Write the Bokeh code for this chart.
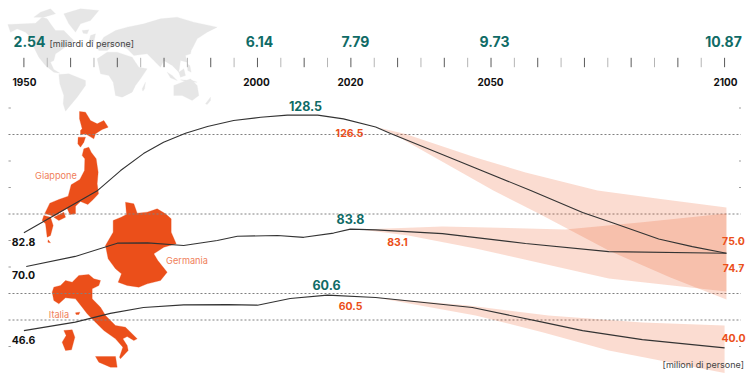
from bokeh.embed import file_html
from bokeh.models import Range1d
from bokeh.plotting import figure
from bokeh.resources import INLINE
from bokeh.core.properties import value

# ---------- data ----------
tick_years = list(range(1950, 2101, 5))
label_years = [1950, 2000, 2020, 2050, 2100]
world_pop_labels = ["2.54", "6.14", "7.79", "9.73", "10.87"]
grid_values = [120, 90, 60, 50]
grid_dots = [130, 110, 100, 80, 70, 40]

japan_years = [1950, 1965.8, 1970.7, 1975.6, 1979.9, 1984.6, 1989.3, 1994.9, 2000.7, 2006.4, 2012.9, 2018.4, 2025.3,
               2028.5, 2043.5, 2058.5, 2069.6, 2076, 2085.9, 2093.1, 2100.4]
japan_pop = [82.9, 98.9, 106.4, 112.8, 117.1, 120.5, 123, 125.3, 126.5, 127.3, 127.3, 125.9, 122.8,
             120.4, 109.6, 98.9, 90.6, 86.7, 80.6, 77.7, 75.2]
japan_hi_years = [2025.3, 2031.7, 2046.7, 2057.4, 2072.8, 2085.9, 2100.4]
japan_hi = [122.8, 120.2, 111.3, 105.7, 98.9, 95.8, 92.5]
japan_lo_years = [2025.3, 2028.9, 2050.5, 2060.2, 2075.2, 2088.4, 2100.4]
japan_lo = [122.8, 120.4, 98.9, 90.2, 76.2, 66, 57.7]

germany_years = [1950.5, 1961, 1970, 1976.5, 1984.2, 1991.4, 1995.7, 2004.3, 2009.9, 2016.3, 2019.9, 2025.3,
                 2039.6, 2057.4, 2075.2, 2100.4]
germany_pop = [70.2, 74, 79, 79.1, 78.1, 80, 81.6, 81.9, 81.2, 82.8, 84.3, 84, 82.6, 78.9, 75.8, 75.2]
germany_hi_years = [2022, 2039.6, 2065.9, 2082.4, 2100.4]
germany_hi = [84.2, 85.3, 84.2, 86.9, 90.2]
germany_lo_years = [2022, 2032.3, 2046.7, 2075.2, 2100.4]
germany_lo = [84.2, 81.9, 77, 65.7, 60.8]

italy_years = [1950, 1961, 1968.5, 1975.6, 1984.2, 1993.6, 2000, 2007, 2015, 2025.3, 2046, 2061, 2069.6, 2082.4, 2100]
italy_pop = [46, 49.2, 52.5, 54.7, 55.7, 55.8, 55.6, 58.1, 59.4, 58.5, 54.7, 49.2, 46, 42.6, 39.5]
italy_hi_years = [2025.3, 2045.2, 2062.3, 2082.4, 2100]
italy_hi = [58.5, 55.5, 51.7, 49.1, 47.9]
italy_lo_years = [2025.3, 2031, 2046.7, 2061, 2075.2, 2100]
italy_lo = [58.5, 56.7, 51.7, 45.4, 38.5, 30]

# ---------- decorative map outlines (page pixels: origin, scale 1/3) ----------
world_a = [
    [(22,72),(70,70),(105,68),(125,50),(140,55),(150,70),(165,90),(190,90),(210,110),(220,120),(200,135),(180,150),(165,160),(160,180),(150,185),(160,207),(178,218),(160,215),(135,195),(115,170),(100,140),(95,115),(75,95),(50,85),(30,95)],
    [(100,50),(120,35),(150,25),(165,40),(130,50)],
    [(190,40),(240,25),(295,30),(270,60),(240,70),(225,95),(205,70)],
    [(175,222),(205,220),(255,240),(255,255),(230,290),(205,320),(195,332),(188,310),(190,285),(178,250)],
    [(290,175),(320,155),(350,155),(395,170),(415,200),(440,205),(420,235),(405,255),(395,275),(365,290),(345,285),(338,245),(325,225),(300,220)],
    [(290,140),(310,110),(345,90),(380,80),(430,70),(480,55),(530,50),(580,65),(650,80),(620,95),(590,115),(575,145),(555,165),(560,185),(540,180),(535,215),(515,195),(490,180),(480,200),(460,180),(440,160),(400,165),(380,145),(345,130),(320,150),(295,150)],
    [(270,105),(285,100),(280,125),(265,125)],
    [(245,90),(265,88),(260,100),(248,98)],
    [(535,215),(550,205),(555,225),(540,230)],
    [(500,215),(515,225),(530,240),(510,232)],
    [(540,238),(575,240),(590,245),(560,244)],
    [(560,190),(568,195),(572,215),(562,210)],
    [(520,255),(545,245),(570,235),(590,255),(595,285),(575,300),(545,285),(520,285)],
    [(615,310),(630,290),(630,300),(620,312)],
    [(565,150),(575,135),(570,160),(555,165)],
    [(425,265),(435,245),(432,265),(427,272)],
]
japan_a = [
    [(147,18),(165,20),(180,45),(200,55),(220,45),(233,65),(215,72),(195,85),(190,100),(165,85),(150,88),(150,75),(155,70),(147,40)],
    [(143,95),(165,95),(160,110),(150,125),(142,115)],
    [(160,130),(175,125),(182,140),(197,160),(203,200),(200,235),(204,265),(188,282),(172,297),(150,288),(135,302),(135,325),(118,327),(110,308),(90,320),(70,332),(43,324),(58,293),(85,282),(113,272),(122,238),(148,222),(162,195),(163,160),(155,150)],
    [(40,330),(60,335),(68,360),(60,390),(50,395),(45,355),(35,345)],
    [(70,335),(100,320),(105,335),(85,345)],
    [(53,403),(60,412),(52,410)],
]
germany_a = [
    [(375,35),(400,40),(410,68),(440,65),(470,55),(495,70),(512,85),(512,125),(527,160),(490,170),(460,190),(472,210),(500,245),(480,270),(440,280),(415,290),(380,285),(353,275),(363,250),(345,235),(323,205),(315,165),(338,125),(338,90),(362,80),(378,72)],
]
italy_a = [
    [(20,65),(25,50),(45,45),(60,30),(80,35),(100,15),(130,12),(145,25),(165,30),(160,45),(140,55),(140,85),(165,110),(180,135),(210,165),(240,170),(275,205),(265,210),(245,198),(232,205),(245,225),(248,240),(225,265),(222,260),(232,230),(210,205),(175,180),(150,155),(125,130),(110,110),(90,85),(60,82),(40,100),(25,90)],
    [(55,180),(80,178),(88,200),(78,238),(60,240),(50,215),(62,195)],
    [(150,258),(210,258),(215,290),(195,290),(160,275)],
    [(90,127),(103,125),(100,132),(92,132)],
]

ORANGE = "#eb4f1a"
TEAL = "#0f6b66"
FONT = value("Inter")

# Page pixel x = 23.4 + 4.671*(year-1950); page pixel y = 293 - 2.65*(v-60)
p = figure(width=750, height=375, output_backend="svg", toolbar_location=None,
           x_range=Range1d(1944.99, 2105.55), y_range=Range1d(29.06, 170.57),
           x_axis_location=None, y_axis_location=None, min_border=0,
           outline_line_color=None, background_fill_color="white")
p.grid.visible = False
p.extra_x_ranges["page"] = Range1d(0, 750)
p.extra_y_ranges["page"] = Range1d(375, 0)


def shapes(polys, ox, oy, color):
    xs = [[ox + a / 3 for a, _ in poly] for poly in polys]
    ys = [[oy + b / 3 for _, b in poly] for poly in polys]
    p.patches(xs, ys, fill_color=color, line_color=color, line_width=0.3,
              x_range_name="page", y_range_name="page")


shapes(world_a, 0, 0, "#e6e6e6")
shapes(japan_a, 30, 105, ORANGE)
shapes(germany_a, 0, 190, ORANGE)
shapes(italy_a, 45, 270, ORANGE)

# year ticks
for yrs, col in [(tick_years[0::2], "#5a5a5a"), (tick_years[1::2], "#b5b5b5")]:
    p.segment(x0=yrs, x1=yrs, y0=[57.3] * len(yrs), y1=[66.7] * len(yrs), line_color=col, line_width=1,
              y_range_name="page")

# reference lines
p.multi_line([[1946.7, 2103.5]] * len(grid_values), [[g, g] for g in grid_values],
             line_color="#808080", line_width=1, line_dash="2 2")
p.multi_line([[1946.7, 1947.2] for _ in grid_dots], [[g, g] for g in grid_dots],
             line_color="#999999", line_width=1)
p.multi_line([[2103.1, 2103.5] for _ in grid_dots], [[g, g] for g in grid_dots],
             line_color="#999999", line_width=1)

# uncertainty bands
for hy, hv, ly, lv in [(japan_hi_years, japan_hi, japan_lo_years, japan_lo),
                       (germany_hi_years, germany_hi, germany_lo_years, germany_lo),
                       (italy_hi_years, italy_hi, italy_lo_years, italy_lo)]:
    p.patch(hy + ly[::-1], hv + lv[::-1], fill_color=ORANGE, fill_alpha=0.2, line_color=None)

# population lines
for yrs, vals in [(japan_years, japan_pop), (germany_years, germany_pop), (italy_years, italy_pop)]:
    p.line(yrs, vals, line_color="#333333", line_width=1.1)


def label(texts, xs, ys, color, size, weight="bold", align="center"):
    p.text(xs, ys, text=texts, text_color=color, text_font=FONT, text_font_size=size, text_font_style=weight,
           text_align=align, text_baseline="middle", x_range_name="page", y_range_name="page")


label(world_pop_labels, [29, 259, 355, 494, 723], [41] * 5, TEAL, "14px")
label(["[miliardi di persone]"], [49], [42.5], "#444444", "9px", "normal", "left")
label([str(y) for y in label_years], [24, 256, 350, 490, 725], [81] * 5, "#111111", "10px")
label(["128.5", "83.8", "60.6"], [305, 350, 326], [105, 218.5, 284.5], TEAL, "12.5px")
label(["126.5", "83.1", "60.5", "75.0", "74.7", "40.0"], [349, 397, 350, 733, 733, 733],
      [132, 241, 305, 240.5, 267, 337], ORANGE, "10.5px")
label(["82.8", "70.0", "46.6"], [23, 23, 23], [241.5, 274, 339.5], "#111111", "10.5px")
label(["Giappone", "Germania", "Italia"], [55.5, 186.5, 58.5], [175, 259.5, 313.5], "#f0805a", "9.2px", "normal")
label(["[milioni di persone]"], [743.5], [364], "#444444", "9px", "normal", "right")

open("out.html", "w").write(file_html(p, INLINE))
